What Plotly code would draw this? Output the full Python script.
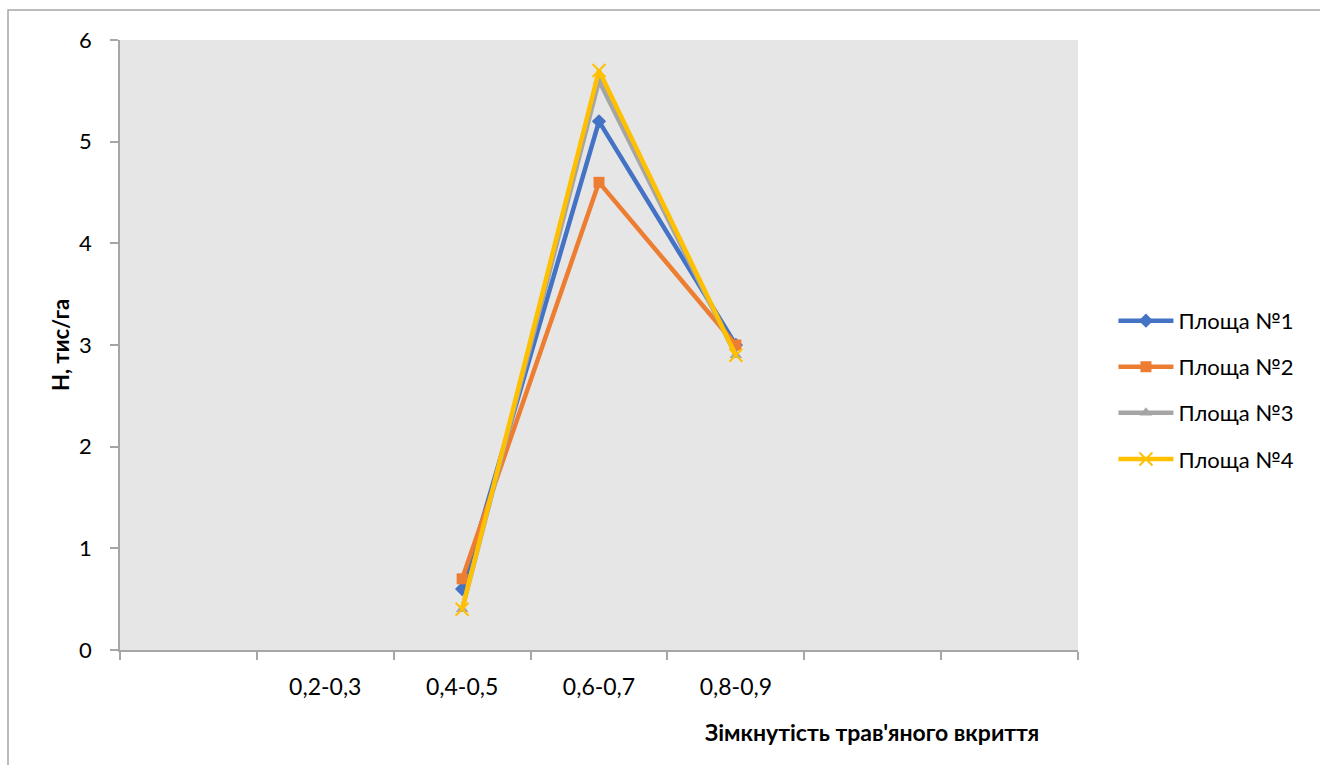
import plotly.graph_objects as go

categories = [" ", "0,2-0,3", "0,4-0,5", "0,6-0,7", "0,8-0,9", "  ", "   "]
x_points = ["0,4-0,5", "0,6-0,7", "0,8-0,9"]
area1 = [0.6, 5.2, 3.0]
area2 = [0.7, 4.6, 3.0]
area3 = [0.4, 5.6, 2.9]
area4 = [0.4, 5.7, 2.9]
names = ["Площа №1", "Площа №2", "Площа №3", "Площа №4"]
colors = ["#4472C4", "#ED7D31", "#A5A5A5", "#FFC000"]
symbols = ["diamond", "square", "triangle-up", "x-thin-open"]

fig = go.Figure()
for i, (vals, nm, col, sym) in enumerate(zip([area1, area2, area3, area4], names, colors, symbols)):
    marker = dict(symbol=sym, size=11, color=col)
    if sym == "x-thin-open":
        marker = dict(symbol=sym, size=13, color=col, line=dict(color=col, width=2))
    fig.add_trace(go.Scatter(
        x=x_points, y=vals, name=nm, mode="lines+markers",
        line=dict(color=col, width=4.5), marker=marker,
        legendgroup=f"g{i}",
    ))

font_family = "Lato, 'Open Sans', sans-serif"
fig.update_layout(
    width=1320, height=765,
    margin=dict(l=120, r=242, t=40, b=115),
    paper_bgcolor="white",
    plot_bgcolor="#E7E6E6",
    font=dict(family=font_family, size=22, color="#000000"),
    showlegend=True,
    legend=dict(x=1.037, y=0.574, xanchor="left", yanchor="top", itemwidth=55,
                font=dict(size=22), tracegroupgap=14.5, bgcolor="rgba(0,0,0,0)"),
    xaxis=dict(type="category", categoryorder="array", categoryarray=categories,
               range=[-0.5, 6.5], showgrid=False, zeroline=False,
               showline=True, linecolor="#A6A6A6", linewidth=1.5,
               ticks="outside", tickson="boundaries", ticklen=8, tickcolor="#A6A6A6",
               tickwidth=1.5, ticklabelstandoff=16, tickfont=dict(size=23)),
    yaxis=dict(range=[0, 6], dtick=1, showgrid=False, zeroline=False,
               showline=True, linecolor="#A6A6A6", linewidth=1.5,
               ticks="outside", ticklen=8, tickcolor="#A6A6A6", tickwidth=1.5,
               ticklabelstandoff=14, tickfont=dict(size=22),
               title=dict(text="<b>Н, тис/га</b>", font=dict(size=22), standoff=3)),
    annotations=[dict(text="<b>Зімкнутість трав'яного вкриття</b>", xref="paper", yref="paper",
                      x=0.785, y=-0.134, xanchor="center", yanchor="middle",
                      showarrow=False, font=dict(size=23))],
    shapes=[dict(type="rect", xref="paper", yref="paper",
                 x0=(8 - 120) / 958, x1=1.5, y0=-0.5, y1=(650 - 10) / 610,
                 line=dict(color="#A6A6A6", width=1.5), fillcolor="rgba(0,0,0,0)", layer="below")],
)

fig.write_html("out.html")
